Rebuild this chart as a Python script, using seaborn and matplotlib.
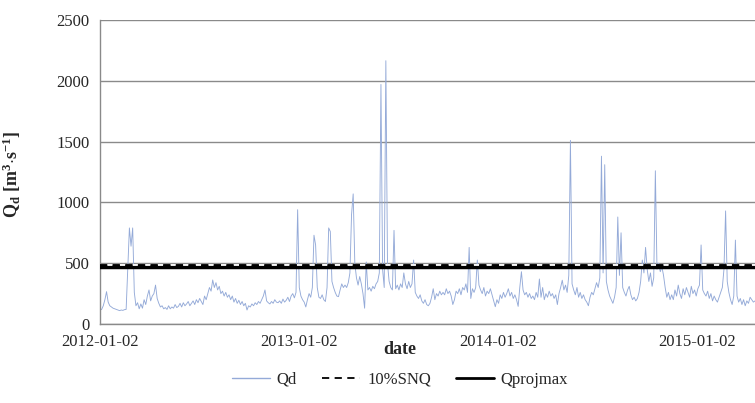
import numpy as np
import pandas as pd
import matplotlib
matplotlib.use('Agg')
import matplotlib.pyplot as plt
import matplotlib.dates as mdates
import seaborn as sns

sns.set_style('white')
plt.rcParams['font.family'] = ['Liberation Serif', 'DejaVu Serif']
plt.rcParams['mathtext.fontset'] = 'custom'
plt.rcParams['mathtext.rm'] = 'Liberation Serif'
plt.rcParams['mathtext.bf'] = 'Liberation Serif:bold'
plt.rcParams['mathtext.it'] = 'Liberation Serif:italic'

# daily discharge, one value every 3 days from 2012-01-02
start_date = '2012-01-02'
step_days = 3
qd = [
    115, 120, 150, 200, 266, 180, 150, 140, 130, 125,
    120, 115, 110, 115, 112, 118, 120, 450, 790, 640,
    790, 260, 150, 175, 125, 165, 130, 200, 160, 230,
    280, 190, 230, 250, 320, 210, 170, 140, 150, 125,
    135, 120, 150, 125, 140, 130, 160, 135, 145, 170,
    140, 175, 150, 165, 185, 150, 170, 190, 160, 200,
    175, 210, 185, 160, 230, 200, 250, 300, 270, 362,
    300, 340, 280, 310, 250, 270, 230, 260, 220, 240,
    200, 230, 180, 210, 170, 195, 160, 185, 150, 170,
    115, 150, 140, 165, 150, 175, 160, 185, 170, 200,
    230, 280, 190, 175, 165, 185, 170, 200, 180, 175,
    190, 170, 205, 180, 195, 220, 185, 230, 250, 215,
    260, 940, 300, 230, 200, 180, 140, 200, 250, 220,
    300, 730, 650, 300, 220, 210, 240, 200, 185, 300,
    790, 760, 350, 300, 260, 230, 225, 280, 330, 300,
    320, 300, 340, 420, 900, 1070, 500, 380, 320, 390,
    330, 250, 130, 510, 280, 300, 270, 310, 290, 330,
    350, 420, 1970, 450, 300, 2165, 500, 350, 300, 280,
    770, 290, 320, 280, 330, 300, 420, 330, 290, 350,
    300, 330, 526, 260, 230, 210, 240, 190, 170, 200,
    160, 150, 170, 220, 290, 200, 250, 230, 270, 240,
    260, 240, 290, 250, 270, 230, 160, 200, 270, 250,
    290, 240, 300, 280, 330, 260, 630, 210, 290, 260,
    300, 526, 320, 280, 250, 300, 230, 270, 250, 290,
    240, 190, 142, 200, 170, 240, 210, 260, 220, 250,
    290, 230, 260, 210, 240, 200, 145, 300, 430, 280,
    240, 260, 220, 250, 210, 230, 200, 260, 220, 370,
    220, 300, 200, 250, 220, 270, 230, 250, 210, 240,
    160, 250, 300, 360, 280, 320, 260, 400, 1510, 330,
    280, 240, 300, 220, 260, 210, 240, 200, 180, 150,
    220, 260, 240, 290, 340, 300, 380, 1380, 420, 1310,
    350, 280, 230, 200, 170, 220, 300, 880, 400, 750,
    300, 260, 230, 280, 310, 240, 200, 220, 190, 210,
    260, 350, 526, 420, 630, 450, 350, 420, 310, 380,
    1260, 450, 500, 430, 470, 400, 300, 220, 260, 200,
    240, 200, 280, 230, 320, 250, 210, 290, 240, 300,
    260, 220, 310, 250, 280, 230, 290, 320, 650, 280,
    250, 230, 270, 210, 250, 190, 230, 200, 180, 220,
    260, 300, 450, 930, 350, 260, 200, 160, 230, 690,
    230, 180, 210, 160, 200, 150, 190, 170, 220, 200,
    180, 190,
]
snq10 = 485       # 10%SNQ
qprojmax = 472    # Qprojmax
tick_dates = ['2012-01-02', '2013-01-02', '2014-01-02', '2015-01-02']
y_ticks = [0, 500, 1000, 1500, 2000, 2500]

df = pd.DataFrame({
    'date': pd.date_range(start_date, periods=len(qd), freq=f'{step_days}D'),
    'Qd': qd,
})

fig = plt.figure(figsize=(7.55, 4.03), dpi=100)
ax = fig.add_axes([100 / 755, 79 / 403, 655 / 755, 304 / 403])

sns.lineplot(data=df, x='date', y='Qd', ax=ax, color='#94aad8', lw=0.65,
             label='Qd', legend=False)
ax.axhline(qprojmax, color='black', lw=3.2, label='Qprojmax', zorder=3)
ax.axhline(snq10, color='black', lw=1.3, ls=(0, (4, 3)), gapcolor='white',
           label='10%SNQ', zorder=4)

ax.set_ylim(0, 2500)
ax.set_yticks(y_ticks)
ax.set_xlim(pd.Timestamp('2012-01-02'), pd.Timestamp('2015-04-19'))
ax.set_xticks(pd.to_datetime(tick_dates))
ax.xaxis.set_major_formatter(mdates.DateFormatter('%Y-%m-%d'))
ax.grid(axis='y', color='#8a8a8a', lw=1.0)
ax.grid(axis='x', visible=False)
for side in ['top', 'right']:
    ax.spines[side].set_visible(False)
for side in ['left', 'bottom']:
    ax.spines[side].set_color('#8a8a8a')
    ax.spines[side].set_linewidth(1.0)
ax.tick_params(axis='both', direction='out', length=4, color='#8a8a8a',
               labelsize=12, width=1.0)

ax.set_xlabel('date', fontsize=13, fontweight='bold')
ax.xaxis.set_label_coords((400 - 100) / 655, -0.055)
ax.set_ylabel(r'Q$_{\mathbf{d}}$ [m$^{\mathbf{3}}$$\mathbf{\cdot}$s$^{\mathbf{-1}}$]',
              fontsize=13, fontweight='bold')
ax.yaxis.set_label_coords(-0.118, 0.49)

handles, labels = ax.get_legend_handles_labels()
order = [labels.index(k) for k in ['Qd', '10%SNQ', 'Qprojmax']]
leg = fig.legend([handles[i] for i in order], [labels[i] for i in order],
                 loc='center', bbox_to_anchor=(400 / 755, 1 - 380 / 403), ncol=3,
                 frameon=False, fontsize=12, handlelength=2.3, columnspacing=1.5,
                 handletextpad=0.4)
leg.legend_handles[0].set_linewidth(1.0)
leg.legend_handles[2].set_linewidth(2.0)

plt.savefig('out.png', dpi=100)
